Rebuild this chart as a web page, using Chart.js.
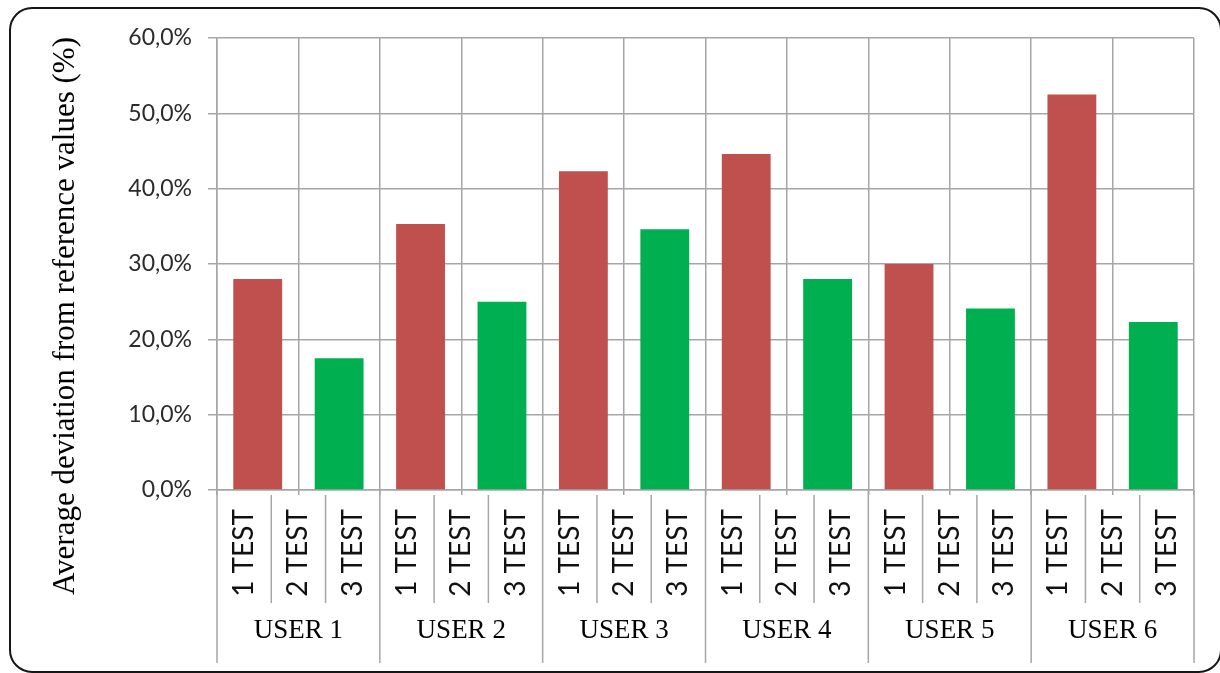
<!DOCTYPE html>
<html>
<head>
<meta charset="utf-8">
<script src="https://cdn.jsdelivr.net/npm/chart.js@4.4.1/dist/chart.umd.min.js"></script>
<style>
  html, body { margin: 0; padding: 0; background: #fff; }
  #wrap { position: relative; width: 1220px; height: 673px; }
</style>
</head>
<body>
<div id="wrap"><canvas id="devChart"></canvas></div>
<script>
const users = ['USER 1', 'USER 2', 'USER 3', 'USER 4', 'USER 5', 'USER 6'];
const tests = ['1 TEST', '2 TEST', '3 TEST'];
// average deviation (%) per user; 2 TEST has no bar in the source
const test1 = [28.0, 35.3, 42.3, 44.6, 30.0, 52.5];
const test3 = [17.5, 25.0, 34.6, 28.0, 24.1, 22.3];
const yTicks = [0, 10, 20, 30, 40, 50, 60];
const yTitle = 'Average deviation from reference values (%)';

const gridColor = '#a6a6a6';

// two bar slots per user: 1 TEST and 3 TEST
const slotLabels = users.flatMap(u => [u + ' ' + tests[0], u + ' ' + tests[2]]);

const frameAndLabels = {
  id: 'frameAndLabels',
  afterDraw(chart) {
    const { ctx, chartArea } = chart;
    const x = chart.scales.x;
    const slot = x.getPixelForValue(1) - x.getPixelForValue(0);
    const base = chartArea.bottom;
    ctx.save();

    ctx.strokeStyle = gridColor;
    ctx.lineWidth = 1.5;
    users.forEach((u, i) => {
      const left = x.getPixelForValue(2 * i) - slot / 2;
      const right = left + 2 * slot;
      const w = (right - left) / tests.length;

      // user separators
      ctx.beginPath();
      ctx.moveTo(left, base);
      ctx.lineTo(left, base + 173);
      if (i === users.length - 1) {
        ctx.moveTo(right, base);
        ctx.lineTo(right, base + 173);
      }
      ctx.stroke();

      // test separators
      for (let j = 1; j < tests.length; j++) {
        ctx.beginPath();
        ctx.moveTo(left + j * w, base + 5);
        ctx.lineTo(left + j * w, base + 113);
        ctx.stroke();
      }

      // rotated test labels
      ctx.fillStyle = '#111';
      ctx.font = '28px Lato, "Open Sans", sans-serif';
      ctx.textAlign = 'right';
      ctx.textBaseline = 'middle';
      tests.forEach((t, j) => {
        ctx.save();
        ctx.translate(left + (j + 0.5) * w, base + 19);
        ctx.rotate(-Math.PI / 2);
        ctx.fillText(t, 0, 0);
        ctx.restore();
      });

      // user labels
      ctx.font = '27px "Liberation Serif", "Times New Roman", serif';
      ctx.textAlign = 'center';
      ctx.textBaseline = 'alphabetic';
      ctx.fillStyle = '#000';
      ctx.fillText(u, (left + right) / 2, base + 148);
    });

    // y axis title
    ctx.save();
    ctx.translate(74, 316);
    ctx.rotate(-Math.PI / 2);
    ctx.font = '31px "Liberation Serif", "Times New Roman", serif';
    ctx.textAlign = 'center';
    ctx.textBaseline = 'alphabetic';
    ctx.fillStyle = '#000';
    ctx.fillText(yTitle, 0, 0);
    ctx.restore();

    // rounded outer frame
    ctx.strokeStyle = '#161616';
    ctx.lineWidth = 2;
    ctx.beginPath();
    ctx.roundRect(10, 8, 1211, 664, 22);
    ctx.stroke();

    ctx.restore();
  }
};

new Chart(document.getElementById('devChart'), {
  type: 'bar',
  data: {
    labels: slotLabels,
    datasets: [
      {
        label: tests[0],
        data: users.flatMap((u, i) => [test1[i], null]),
        backgroundColor: '#C0504D'
      },
      {
        label: tests[2],
        data: users.flatMap((u, i) => [null, test3[i]]),
        backgroundColor: '#00B050'
      }
    ]
  },
  options: {
    responsive: true,
    maintainAspectRatio: false,
    animation: false,
    skipNull: true,
    categoryPercentage: 1,
    barPercentage: 0.6,
    layout: { padding: { top: 38, right: 26, left: 0, bottom: 0 } },
    plugins: {
      legend: { display: false },
      tooltip: { enabled: false }
    },
    scales: {
      x: {
        offset: true,
        afterFit(scale) { scale.height = 183; },
        grid: {
          offset: true,
          color: gridColor,
          lineWidth: 1.5,
          tickLength: 5
        },
        border: { color: gridColor, width: 1.5 },
        ticks: { display: false }
      },
      y: {
        min: yTicks[0],
        max: yTicks[yTicks.length - 1],
        afterFit(scale) { scale.width = 217; },
        afterBuildTicks(scale) { scale.ticks = yTicks.map(v => ({ value: v })); },
        grid: {
          color: gridColor,
          lineWidth: 1.5,
          tickLength: 9
        },
        border: { color: gridColor, width: 1.5 },
        ticks: {
          padding: 16,
          color: '#2b2b2b',
          font: { family: 'Lato, "Open Sans", sans-serif', size: 23 },
          callback: v => v.toFixed(1).replace('.', ',') + '%'
        }
      }
    }
  },
  plugins: [frameAndLabels]
});
</script>
</body>
</html>
